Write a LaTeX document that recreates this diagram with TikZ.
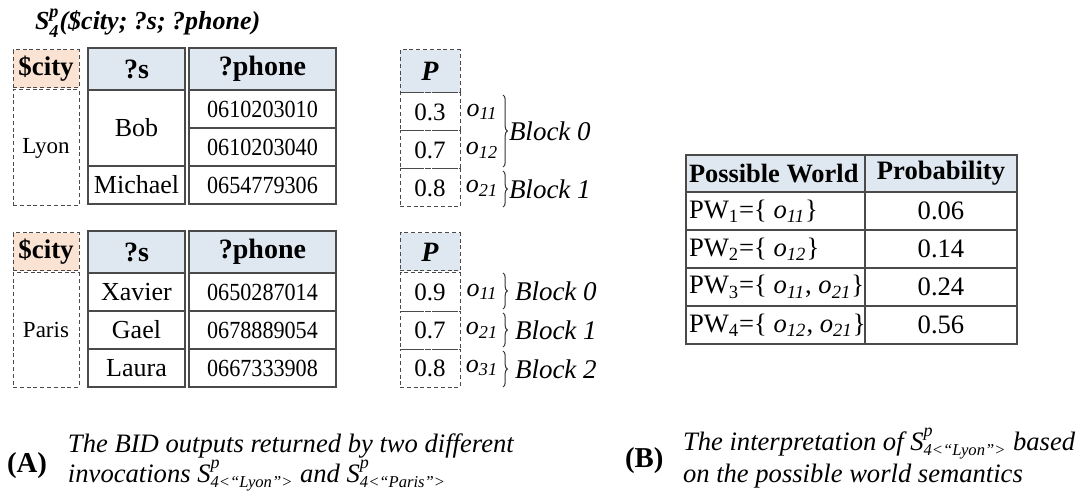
\documentclass[tikz,border=0pt]{standalone}
\usepackage{amsmath}
\usepackage{fontspec}
\setmainfont{Liberation Serif}
\newfontfamily\phonefont[FakeStretch=0.9]{Liberation Serif}
\usetikzlibrary{decorations.pathreplacing}
\definecolor{cityfill}{HTML}{FBE3D4}
\definecolor{headfill}{HTML}{DFE8F1}
\definecolor{linegray}{HTML}{4A4A4A}
\newcommand{\ov}[1]{\textit{o}\textsubscript{\textit{#1}}}
\newcommand{\pwrow}[1]{\makebox[86.5pt][l]{#1}}
\newcommand{\Sfour}[1]{\smash{$\textit{S}^{\mbox{\fontsize{9}{9}\selectfont\itshape p}}_{\mbox{\fontsize{8.3}{9}\selectfont\itshape 4<“#1”>}}$}}

\begin{document}
\begin{tikzpicture}[x=0.5pt,y=-0.5pt,
		every node/.style={inner sep=0pt,outer sep=0pt},
		cell/.style={draw=linegray,line width=0.6pt,minimum height=19pt,font=\fontsize{13}{15}\selectfont},
		dcell/.style={cell,dash pattern=on 2pt off 1.4pt,line width=0.5pt},
		headcell/.style={cell,fill=headfill,minimum height=21pt,font=\fontsize{14}{16}\selectfont\bfseries},
		cityhead/.style={headcell,dcell,fill=cityfill,font=\fontsize{13.5}{16}\selectfont\bfseries},
		citycol/.style={minimum width=33pt},
		scol/.style={minimum width=48.5pt},
		phonecol/.style={minimum width=73.5pt,font=\fontsize{12.3}{14}\phonefont},
		pcol/.style={minimum width=30pt,font=\fontsize{12.5}{14}\selectfont},
		olabel/.style={font=\fontsize{13}{15}\selectfont},
		blocklabel/.style={font=\fontsize{13.5}{15}\selectfont\itshape,anchor=west},
		blockbrace/.style={decorate,decoration={brace,amplitude=2.2pt},draw=black!80,line width=0.5pt},
		pwcol/.style={cell,minimum width=89.5pt,font=\fontsize{13.3}{15}\selectfont},
		probcol/.style={cell,minimum width=76pt,font=\fontsize{13.3}{15}\selectfont},
		caption/.style={font=\fontsize{13.3}{15}\selectfont\itshape,anchor=base west},
		tag/.style={font=\fontsize{14.4}{16}\selectfont\bfseries,anchor=base west}]
	\useasboundingbox (0,0) rectangle (1083,492);

	\node[anchor=base west,font=\fontsize{13}{15}\selectfont\bfseries\itshape] (title) at (35,30)
		{$\textbf{\textit{S}}^{\textbf{\textit{p}}}_{\textbf{\textit{4}}}$(\$city; ?s; ?phone)};

	\node[cityhead,citycol] (cityA) at (46,69) {\$city};
	\node[dcell,citycol,minimum height=58pt,font=\fontsize{11.5}{13}\selectfont] (lyon) at (46,148) {Lyon};
	\node[headcell,scol] (sA) at (136.5,69) {?s};
	\node[cell,scol,minimum height=38pt] (sA1) at (136.5,128) {Bob};
	\node[cell,scol] (sA2) at (136.5,185) {Michael};
	\node[headcell,phonecol,font=\fontsize{14}{16}\selectfont\bfseries] (phA) at (262.5,69) {?phone};
	\node[cell,phonecol] (phA1) at (262.5,109) {0610203010};
	\node[cell,phonecol] (phA2) at (262.5,147) {0610203040};
	\node[cell,phonecol] (phA3) at (262.5,185) {0654779306};
	\node[headcell,dcell,pcol,minimum height=21.5pt,font=\fontsize{14}{16}\selectfont\bfseries\itshape] (pA) at (430,71.5) {P};
	\node[dcell,pcol] (pA1) at (430,112) {0.3};
	\node[dcell,pcol] (pA2) at (430,150) {0.7};
	\node[dcell,pcol] (pA3) at (430,188) {0.8};
	\node[olabel] (oA1) at (482,112) {\ov{11}};
	\node[olabel] (oA2) at (482,150) {\ov{12}};
	\node[olabel] (oA3) at (482,188) {\ov{21}};
	\draw[blockbrace] ([xshift=21.5pt,yshift=-1pt]pA1.north east) -- ([xshift=21.5pt,yshift=1pt]pA2.south east)
		node[blocklabel,midway,xshift=3pt] {Block 0};
	\draw[blockbrace] ([xshift=21.5pt,yshift=-1pt]pA3.north east) -- ([xshift=21.5pt]pA3.south east)
		node[blocklabel,midway,xshift=3pt] {Block 1};

	\node[cityhead,citycol] (cityB) at (46,252) {\$city};
	\node[dcell,citycol,minimum height=57pt,font=\fontsize{11.5}{13}\selectfont] (paris) at (46,330) {Paris};
	\node[headcell,scol] (sB) at (136.5,252) {?s};
	\node[cell,scol] (sB1) at (136.5,292) {Xavier};
	\node[cell,scol] (sB2) at (136.5,330) {Gael};
	\node[cell,scol] (sB3) at (136.5,368) {Laura};
	\node[headcell,phonecol,font=\fontsize{14}{16}\selectfont\bfseries] (phB) at (262.5,252) {?phone};
	\node[cell,phonecol] (phB1) at (262.5,292) {0650287014};
	\node[cell,phonecol] (phB2) at (262.5,330) {0678889054};
	\node[cell,phonecol] (phB3) at (262.5,368) {0667333908};
	\node[headcell,dcell,pcol,font=\fontsize{14}{16}\selectfont\bfseries\itshape] (pB) at (430,252) {P};
	\node[dcell,pcol] (pB1) at (430,292) {0.9};
	\node[dcell,pcol] (pB2) at (430,330) {0.7};
	\node[dcell,pcol] (pB3) at (430,368) {0.8};
	\node[olabel] (oB1) at (482,292) {\ov{11}};
	\node[olabel] (oB2) at (482,330) {\ov{21}};
	\node[olabel] (oB3) at (482,368) {\ov{31}};
	\draw[blockbrace] ([xshift=21.5pt]pB1.north east) -- ([xshift=21.5pt,yshift=1pt]pB1.south east)
		node[blocklabel,midway,xshift=6pt] {Block 0};
	\draw[blockbrace] ([xshift=21.5pt,yshift=-1pt]pB2.north east) -- ([xshift=21.5pt,yshift=1pt]pB2.south east)
		node[blocklabel,midway,xshift=6pt] {Block 1};
	\draw[blockbrace] ([xshift=21.5pt,yshift=-1pt]pB3.north east) -- ([xshift=21.5pt]pB3.south east)
		node[blocklabel,midway,xshift=6pt] {Block 2};

	\node[pwcol,fill=headfill,minimum height=18.5pt,font=\fontsize{13.2}{15}\selectfont\bfseries] (pw) at (775.5,173.5) {\pwrow{Possible World}};
	\node[probcol,fill=headfill,minimum height=18.5pt,font=\fontsize{13.3}{15}\selectfont\bfseries] (prob) at (941,173.5) {Probability};
	\node[pwcol] (pw1) at (775.5,211) {\pwrow{PW\textsubscript{1}=\{ \ov{11}\}}};
	\node[pwcol] (pw2) at (775.5,249) {\pwrow{PW\textsubscript{2}=\{ \ov{12}\}}};
	\node[pwcol] (pw3) at (775.5,287) {\pwrow{PW\textsubscript{3}=\{ \ov{11}, \ov{21}\}}};
	\node[pwcol] (pw4) at (775.5,325) {\pwrow{PW\textsubscript{4}=\{ \ov{12}, \ov{21}\}}};
	\node[probcol] (prob1) at (941,211) {0.06};
	\node[probcol] (prob2) at (941,249) {0.14};
	\node[probcol] (prob3) at (941,287) {0.24};
	\node[probcol] (prob4) at (941,325) {0.56};

	\node[tag] (tagA) at (7,472) {(A)};
	\node[caption] (capA1) at (68,452) {The BID outputs returned by two different};
	\node[caption] (capA2) at (68,482) {invocations \Sfour{Lyon} and \Sfour{Paris}};
	\node[tag] (tagB) at (625,467) {(B)};
	\node[caption] (capB1) at (683,450) {The interpretation of \Sfour{Lyon} based};
	\node[caption] (capB2) at (683,482) {on the possible world semantics};
\end{tikzpicture}
\end{document}
